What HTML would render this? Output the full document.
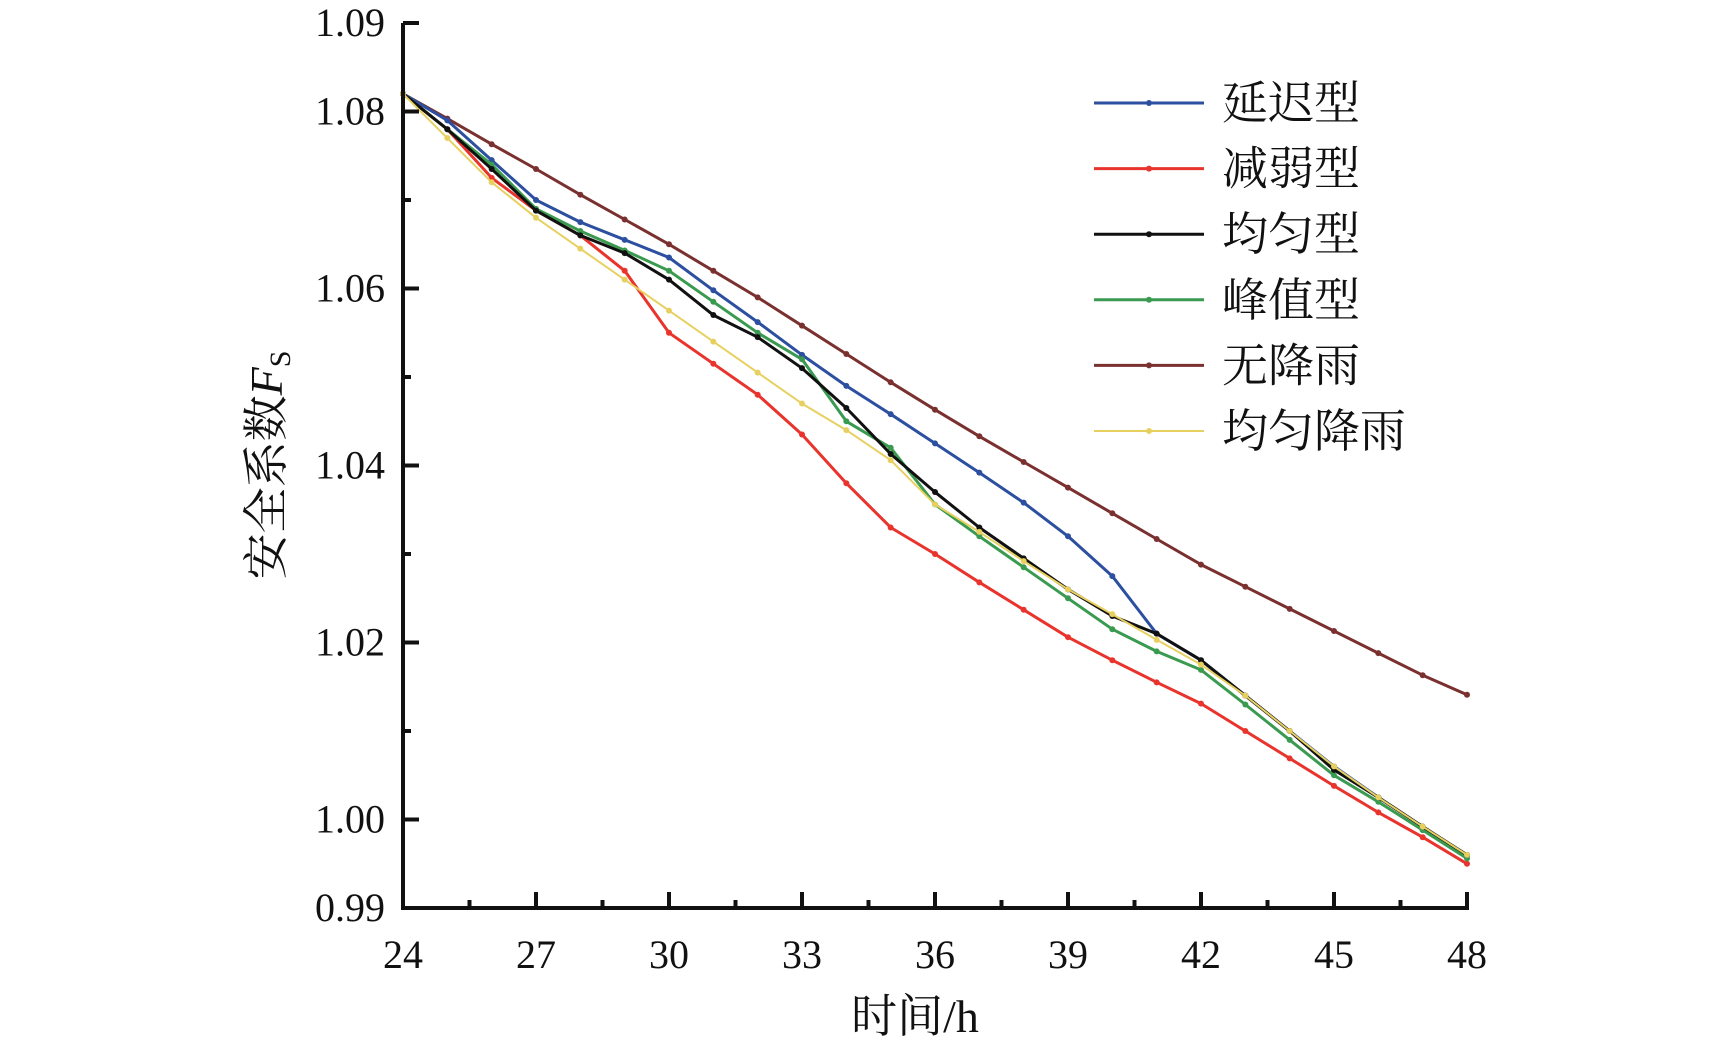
<!DOCTYPE html>
<html><head><meta charset="utf-8"><style>
html,body{margin:0;padding:0;background:#fff;}
svg{display:block;}
text{font-family:"Liberation Serif","Noto Serif CJK SC","Noto Sans CJK SC",serif;fill:#111;}
</style></head><body>
<svg id="chart" width="1724" height="1049" viewBox="0 0 1724 1049"></svg>
<script>
const hours=[24,25,26,27,28,29,30,31,32,33,34,35,36,37,38,39,40,41,42,43,44,45,46,47,48];
const delayed=[1.082,1.079,1.0745,1.0700,1.0675,1.0655,1.0635,1.0598,1.0562,1.0525,1.0490,1.0458,1.0425,1.0392,1.0358,1.0320,1.0275,1.0210,1.0180,1.0140,1.0100,1.0060,1.0025,0.9992,0.9959];
const weakened=[1.082,1.078,1.0725,1.0688,1.0660,1.0620,1.0550,1.0515,1.0480,1.0435,1.0380,1.0330,1.0300,1.0268,1.0237,1.0206,1.0180,1.0155,1.0131,1.0100,1.0069,1.0038,1.0008,0.9980,0.9950];
const uniform=[1.082,1.078,1.0735,1.0688,1.0660,1.0640,1.0610,1.0570,1.0545,1.0510,1.0465,1.0413,1.0370,1.0330,1.0295,1.0260,1.0230,1.0210,1.0180,1.0140,1.0100,1.0056,1.0025,0.9992,0.9960];
const peak=[1.082,1.078,1.0740,1.0690,1.0665,1.0643,1.0620,1.0585,1.0550,1.0520,1.0450,1.0420,1.0356,1.0320,1.0285,1.0250,1.0215,1.0190,1.0169,1.0130,1.0090,1.0050,1.0020,0.9988,0.9956];
const noRain=[1.082,1.0792,1.0763,1.0735,1.0706,1.0678,1.0650,1.0620,1.0590,1.0558,1.0526,1.0494,1.0463,1.0433,1.0404,1.0375,1.0346,1.0317,1.0288,1.0263,1.0238,1.0213,1.0188,1.0163,1.0141];
const uniformRain=[1.082,1.0770,1.0720,1.0680,1.0645,1.0610,1.0575,1.0540,1.0505,1.0470,1.0440,1.0406,1.0356,1.0325,1.0292,1.0260,1.0232,1.0203,1.0175,1.0140,1.0100,1.0060,1.0025,0.9992,0.9960];
const xTicks=[24,27,30,33,36,39,42,45,48];
const yTicks=[0.99,1.00,1.02,1.04,1.06,1.08,1.09];
const yTickLabels=["0.99","1.00","1.02","1.04","1.06","1.08","1.09"];
const seriesNames=["延迟型","减弱型","均匀型","峰值型","无降雨","均匀降雨"];
const seriesColors=["#2c4fa0","#e8342c","#111111","#3a9a50","#7b3030","#e8d060"];
const seriesData=[delayed,weakened,uniform,peak,noRain,uniformRain];

const svg=document.getElementById('chart');
const NS='http://www.w3.org/2000/svg';
const X0=403,X1=1467,Y0=908,Y1=23;
const sx=v=>X0+(v-24)/(48-24)*(X1-X0);
const sy=v=>Y0-(v-0.99)/(1.09-0.99)*(Y0-Y1);
function mk(tag,attrs,parent){const e=document.createElementNS(NS,tag);for(const k in attrs)e.setAttribute(k,attrs[k]);(parent||svg).appendChild(e);return e;}

// series (draw in order so yellow/others overlay similarly)
const order=[4,1,0,3,2,5];
order.forEach(i=>{
  const g=mk('g',{});
  
  
  const pts=hours.map((h,j)=>sx(h).toFixed(1)+','+sy(seriesData[i][j]).toFixed(1)).join(' ');
  const pl=mk('polyline',{points:pts,fill:'none',stroke:seriesColors[i],'stroke-width':i==5?2:3,'stroke-linejoin':'round'},g);
  
  
  hours.forEach((h,j)=>{
    const c=mk('circle',{cx:sx(h),cy:sy(seriesData[i][j]),r:3,fill:seriesColors[i]},g);
    
    
  });
});

// axes
const ax=mk('g',{stroke:'#111','stroke-width':4,fill:'none'});


mk('line',{x1:X0,y1:Y1,x2:X0,y2:Y0+2},ax);
mk('line',{x1:X0-2,y1:Y0,x2:X1+2,y2:Y0},ax);
for(let v=0.99;v<=1.0901;v+=0.01){
  const major=yTicks.some(t=>Math.abs(t-v)<1e-6);
  mk('line',{x1:X0,y1:sy(v),x2:X0+(major?16:8),y2:sy(v)},ax);
}
for(let h=24;h<=48;h+=1.5){
  const major=xTicks.includes(h);
  mk('line',{x1:sx(h),y1:Y0,x2:sx(h),y2:Y0-(major?16:8)},ax);
}
yTicks.forEach((v,i)=>{
  const t=mk('text',{x:X0-18,y:sy(v)+13,'text-anchor':'end','font-size':40});
  t.textContent=yTickLabels[i];
  
  
});
xTicks.forEach(h=>{
  const t=mk('text',{x:sx(h),y:968,'text-anchor':'middle','font-size':40});
  t.textContent=String(h);
  
  
});
const xt=mk('text',{x:915,y:1032,'text-anchor':'middle','font-size':46});
xt.textContent='时间/h';


const yt=mk('text',{transform:'translate(282,465) rotate(-90)','text-anchor':'middle','font-size':46});
yt.innerHTML='安全系数<tspan font-style="italic">F</tspan><tspan font-size="30" dy="8">S</tspan>';



// legend
const lg=mk('g',{});


seriesNames.forEach((n,i)=>{
  const y=103+i*65.6;
  const e=mk('g',{},lg);
  
  
  mk('line',{x1:1094,y1:y,x2:1204,y2:y,stroke:seriesColors[i],'stroke-width':i==5?2:3},e);
  mk('circle',{cx:1149,cy:y,r:3,fill:seriesColors[i]},e);
  const t=mk('text',{x:1222,y:y+16,'font-size':46},e);
  t.textContent=n;
});
</script>
</body></html>
